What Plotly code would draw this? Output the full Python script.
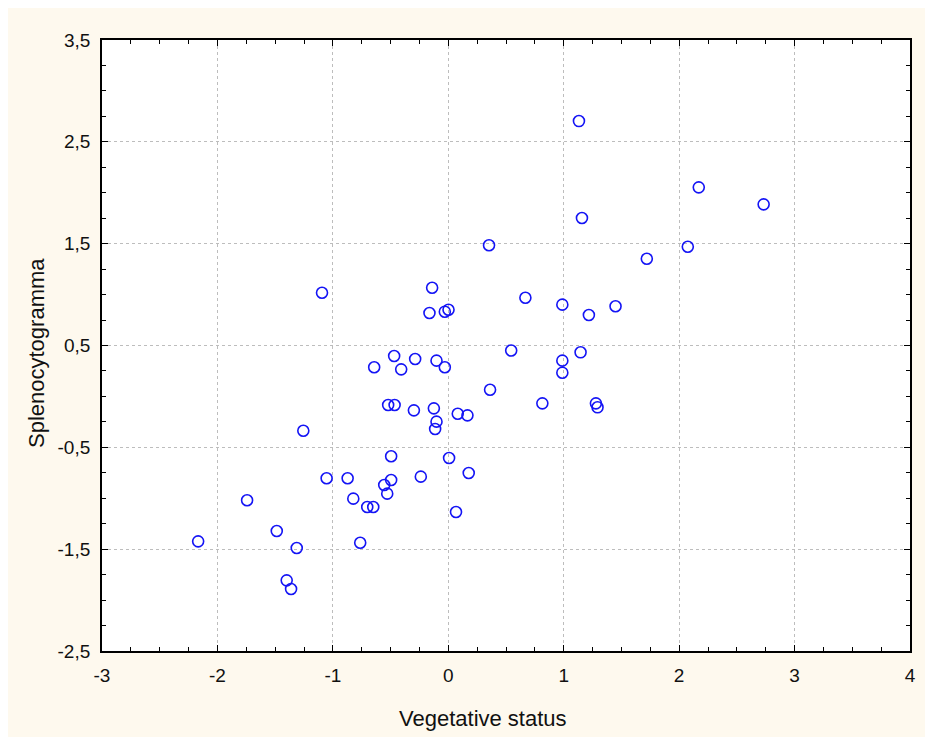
import plotly.graph_objects as go

# Data
vegetative_status = [
    1.132, 2.170, 2.732, 1.158, 0.353, 2.075, 1.720, -0.140, -1.094, 0.668,
    0.988, 1.449, 0.002, -0.030, -0.163, 1.218, 0.545, 1.146, -0.469, -0.287,
    -0.102, 0.988, -0.642, -0.030, -0.408, 0.988, 0.362, -0.521, -0.465, 0.815,
    1.279, 1.293, -0.125, -0.298, 0.082, 0.166, -0.102, -0.114, -1.256, -0.495,
    0.007, 0.177, -0.238, -1.054, -0.872, -0.495, -0.555, -0.529, -0.823, -1.743,
    -0.702, -0.650, 0.067, -1.486, -0.763, -2.167, -1.313, -1.400, -1.362,
]
splenocytogramma = [
    2.704, 2.053, 1.886, 1.752, 1.484, 1.470, 1.352, 1.067, 1.018, 0.969,
    0.901, 0.885, 0.851, 0.832, 0.819, 0.799, 0.451, 0.433, 0.397, 0.367,
    0.351, 0.351, 0.286, 0.286, 0.266, 0.233, 0.066, -0.084, -0.084, -0.068,
    -0.068, -0.107, -0.117, -0.137, -0.170, -0.186, -0.248, -0.320, -0.337, -0.588,
    -0.605, -0.752, -0.788, -0.804, -0.804, -0.821, -0.870, -0.955, -1.004, -1.020,
    -1.086, -1.086, -1.135, -1.322, -1.437, -1.423, -1.489, -1.806, -1.891,
]

x_tickvals = [-3, -2, -1, 0, 1, 2, 3, 4]
x_ticktext = ["-3", "-2", "-1", "0", "1", "2", "3", "4"]
y_tickvals = [-2.5, -1.5, -0.5, 0.5, 1.5, 2.5, 3.5]
y_ticktext = ["-2,5", "-1,5", "-0,5", "0,5", "1,5", "2,5", "3,5"]

x_title = "Vegetative status"
y_title = "Splenocytogramma"

OFF = 8  # page body margin
W, H = 933 - OFF, 737 - OFF
ML, MR, MT, MB = 94, 23, 32, 86
PW, PH = W - ML - MR, H - MT - MB
PL_PAGE, PT_PAGE = OFF + ML, OFF + MT

FONT = "Liberation Sans, Arial, sans-serif"
CREAM = "#FEF9EE"

fig = go.Figure()
fig.add_trace(go.Scatter(
    x=vegetative_status, y=splenocytogramma, mode="markers",
    marker=dict(symbol="circle-open", size=11, color="#1414F5",
                line=dict(width=1.6, color="#1414F5")),
    showlegend=False, hoverinfo="x+y",
))

axis_common = dict(
    showline=True, linecolor="black", linewidth=1.8, mirror="allticks",
    ticks="inside", ticklen=6, tickwidth=1, tickcolor="black",
    showgrid=True, gridcolor="#BDBDBD", griddash="dot", gridwidth=1,
    zeroline=False,
    tickfont=dict(family=FONT, size=19, color="#111111"),
    minor=dict(ticks="inside", ticklen=4, tickwidth=1, tickcolor="black",
               dtick=0.25, showgrid=False),
)

fig.update_xaxes(range=[-3, 4], tickmode="array", tickvals=x_tickvals,
                 ticktext=x_ticktext, ticklabelstandoff=6, **axis_common)
fig.update_yaxes(range=[-2.5, 3.5], tickmode="array", tickvals=y_tickvals,
                 ticktext=y_ticktext, ticklabelstandoff=6, **axis_common)
fig.update_yaxes(minor=dict(tick0=-2.5))

fig.update_layout(
    width=W, height=H,
    margin=dict(l=ML, r=MR, t=MT, b=MB, pad=0),
    paper_bgcolor=CREAM, plot_bgcolor="white",
    font=dict(family=FONT, color="#111111"),
    annotations=[
        dict(text=x_title, xref="paper", yref="paper",
             x=(483 - PL_PAGE) / PW, y=-(718 - (PT_PAGE + PH)) / PH,
             xanchor="center", yanchor="middle", showarrow=False,
             font=dict(family=FONT, size=22, color="#111111")),
        dict(text=y_title, xref="paper", yref="paper",
             x=(36 - PL_PAGE) / PW, y=1 - (353 - PT_PAGE) / PH, textangle=-90,
             xanchor="center", yanchor="middle", showarrow=False,
             font=dict(family=FONT, size=22, color="#111111")),
    ],
)

fig.write_html("out.html")
